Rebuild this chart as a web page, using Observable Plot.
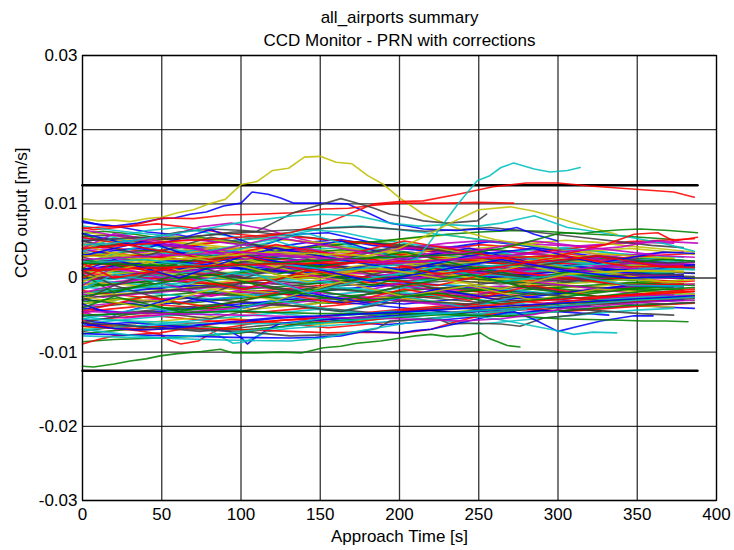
<!DOCTYPE html>
<html><head><meta charset="utf-8">
<script src="https://cdn.jsdelivr.net/npm/d3@7"></script>
<script src="https://cdn.jsdelivr.net/npm/@observablehq/plot@0.6"></script>
<style>body{margin:0;background:#fff}</style>
</head><body><div id="chart"></div>
<script>
const titleLines = ["all_airports summary", "CCD Monitor - PRN with corrections"];
const xLabel = "Approach Time [s]";
const yLabel = "CCD output [m/s]";
const xTicks = [0, 50, 100, 150, 200, 250, 300, 350, 400];
const yTicks = [-0.03, -0.02, -0.01, 0, 0.01, 0.02, 0.03];
const thresholdLevels = [0.0125, -0.0125];
const thresholdSpan = [0, 388];
const traceColors = ["#0000ff", "#008000", "#ff0000", "#00bfbf", "#bf00bf", "#bfbf00", "#404040"];
// sample times (s) for the bulk traces (staggered recording grids)
const sampleTimesA = [0,20,41,61,81,102,122,142,163,183,203,224,244,264,284,305,325,345,366,386];
const sampleTimesB = [0,13,33,54,74,94,115,135,155,176,196,216,237,257,277,298,318,338,359,379];
const sampleTimesC = [0,7,27,47,68,88,108,129,149,169,190,210,230,251,271,291,312,332,352,373];
const sampleTimesD = [0,40,81,122,163,203,244,284,325,366,386];
const sampleTimesE = [0,20,61,102,142,183,224,264,305,345,379];
// bulk traces, values in 1e-3 m/s
const coreTraces = [
[7.5,7.0,6.2,5.8,5.0,4.6,4.2,4.8,5.2,4.4,3.9,3.5,3.2,3.0,2.6,2.4,2.0,1.8,1.6,1.5],
[6.0,6.3,5.9,5.2,5.5,4.8,4.1,3.9,4.4,4.9,4.6,4.0,3.6,3.9,3.5,3.0,2.8,2.5,2.7,2.4],
[6.8,6.5,6.9,7.3,6.8,6.1,5.7,5.2,4.6,4.0,3.8,3.4,3.9,4.5,4.2,3.6,3.1,2.7,2.2,2.0],
[5.2,5.6,6.4,6.8,6.0,5.4,5.9,6.5,6.2,5.3,4.7,4.1,3.5,3.3,3.8,4.1,3.6,3.0,2.5,2.3],
[4.6,4.2,4.9,5.6,6.9,7.4,6.6,5.4,4.4,3.8,3.2,2.9,2.4,2.8,3.3,3.9,3.4,2.8,2.3,1.9],
[6.4,6.0,5.5,5.0,4.6,4.9,5.3,5.1,4.8,4.5,5.0,5.4,5.8,5.2,4.6,4.0,3.5,3.2,2.9,2.7],
[5.6,5.8,5.4,6.2,6.6,6.4,5.9,5.5,5.0,4.7,4.3,3.9,3.5,3.2,2.8,2.5,2.2,2.0,1.7,1.6],
[4.9,5.3,5.0,4.5,4.2,3.8,4.5,5.9,6.1,5.1,4.2,3.8,4.3,4.9,4.4,3.7,3.1,2.6,2.2,1.9],
[5.9,5.4,4.8,4.4,4.0,3.6,3.3,3.8,4.2,4.6,5.0,5.5,5.9,6.2,6.4,6.3,6.0,5.8,5.5,5.2],
[4.4,4.0,3.6,4.1,4.7,5.2,5.8,5.4,5.0,4.6,4.1,3.7,3.3,2.9,3.4,3.9,4.4,4.9,5.1,5.3],
[7.0,6.6,6.1,5.7,5.3,5.0,5.4,6.0,6.8,7.0,6.6,6.1,5.6,5.0,4.5,4.0,3.7,3.3,3.0,2.8],
[5.0,4.7,4.4,4.8,5.2,4.8,4.3,3.9,3.6,3.3,3.7,4.2,4.7,5.0,4.8,4.5,4.3,4.6,4.8,4.7],
[4.2,4.6,5.1,5.6,5.2,4.7,4.3,3.9,3.6,3.3,3.0,3.4,3.9,4.3,4.7,5.1,4.8,4.3,3.9,3.5],
[3.9,4.3,4.8,5.3,5.7,6.0,6.3,6.5,6.7,6.9,6.6,6.3,6.5,6.8,6.4,5.9,5.4,4.9,4.4,4.1],
[3.5,3.2,2.8,3.3,3.8,3.4,3.0,2.6,2.2,2.5,2.9,2.4,2.0,1.7,1.4,1.2,1.0,0.8,0.7,0.6],
[3.0,3.4,3.7,3.3,2.9,2.5,2.9,3.4,3.8,3.5,3.1,2.7,2.4,2.0,1.8,2.1,2.5,2.2,1.9,1.7],
[2.4,2.0,2.5,3.1,3.6,3.2,2.7,2.3,1.9,2.3,2.8,3.3,2.9,2.4,2.0,1.6,1.3,1.0,0.9,0.8],
[3.8,3.5,3.1,2.7,2.3,2.6,3.0,3.5,3.9,4.2,3.8,3.4,3.0,2.6,2.2,1.9,1.6,1.4,1.2,1.0],
[2.0,2.4,2.8,2.5,2.1,1.7,2.1,2.6,3.0,2.7,2.3,1.9,2.3,2.7,2.4,2.0,1.7,1.5,1.8,2.1],
[1.6,1.9,2.3,2.8,3.2,2.8,2.4,2.0,2.4,2.9,3.4,3.0,2.6,2.2,1.9,1.6,1.4,1.2,1.0,0.9],
[2.8,2.5,2.1,1.8,2.2,2.6,3.0,3.4,3.0,2.6,2.3,2.0,1.7,1.4,1.2,1.5,1.8,2.1,2.4,2.6],
[1.2,1.6,2.0,2.4,2.0,1.6,1.2,1.5,1.9,2.3,2.0,1.6,1.3,1.0,1.3,1.6,1.3,1.0,0.8,0.6],
[3.3,2.9,2.5,2.1,1.7,2.0,2.4,2.8,2.5,2.1,1.8,1.5,1.8,2.2,2.6,3.0,2.7,2.3,2.0,1.8],
[4.0,3.6,3.2,2.8,3.3,3.8,4.2,3.8,3.4,3.0,2.6,2.2,1.9,1.6,1.3,1.0,0.8,0.6,0.5,0.4],
[2.2,2.6,3.0,3.5,3.9,3.5,3.1,2.7,2.3,1.9,1.6,1.3,1.0,1.4,1.8,2.2,1.9,1.6,1.3,1.1],
[3.6,3.9,3.5,3.1,2.7,3.0,3.4,3.1,2.8,2.5,2.8,3.2,3.5,3.1,2.7,2.3,2.6,3.0,3.3,3.5],
[2.6,2.2,1.9,2.3,2.7,3.2,3.6,4.0,4.4,4.0,3.6,3.2,2.8,2.5,2.2,2.5,2.9,3.2,2.9,2.6],
[1.8,2.1,1.7,1.4,1.8,2.2,1.9,1.6,1.3,1.7,2.1,2.5,2.2,1.9,1.6,1.3,1.1,0.9,0.8,0.7],
[3.1,3.5,4.0,3.6,3.2,2.8,2.4,2.0,1.7,1.4,1.1,1.5,1.9,2.3,2.0,1.7,1.4,1.1,1.3,1.5],
[1.4,1.1,1.5,1.9,2.3,2.7,2.4,2.0,1.6,1.3,1.0,0.7,1.0,1.4,1.8,1.5,1.2,0.9,0.7,0.5],
[2.9,3.3,2.9,2.5,2.1,1.8,1.5,1.9,2.4,2.8,3.2,2.8,2.4,2.0,1.7,2.0,2.4,2.8,3.1,3.3],
[1.0,1.3,1.7,2.1,1.8,1.4,1.7,2.1,2.5,2.9,2.6,2.2,1.9,1.6,1.9,2.3,2.0,1.7,1.5,1.3],
[2.5,2.1,1.8,1.4,1.1,1.4,1.8,2.2,2.6,2.3,1.9,1.5,1.2,0.9,0.6,0.9,1.2,1.5,1.2,1.0],
[3.4,3.0,3.3,3.7,4.1,3.7,3.3,2.9,2.6,2.3,2.0,1.8,2.1,2.5,2.9,3.3,3.7,4.0,3.6,3.2],
[0.8,1.2,1.6,1.3,0.9,0.5,0.8,1.2,1.6,1.3,0.9,0.6,0.3,0.6,1.0,0.7,0.4,0.2,0.3,0.4],
[0.2,-0.2,0.2,0.6,1.0,1.4,1.1,0.7,0.3,0.0,0.4,0.8,1.2,0.9,0.5,0.2,-0.1,0.2,0.5,0.3],
[1.3,0.9,0.5,0.1,0.5,0.9,1.3,1.7,1.4,1.0,0.6,0.3,0.0,-0.3,0.0,0.4,0.8,0.5,0.2,0.0],
[-0.4,0.0,0.4,0.8,0.5,0.1,-0.3,0.0,0.4,0.8,1.2,0.9,0.5,0.2,0.5,0.9,0.6,0.3,0.1,-0.1],
[0.5,0.9,0.6,0.2,-0.2,0.1,0.5,0.9,0.6,0.2,-0.1,-0.4,-0.1,0.3,0.7,1.0,0.7,0.4,0.6,0.8],
[-0.9,-0.5,-0.1,0.3,0.0,-0.4,-0.8,-0.5,-0.1,0.3,0.7,0.4,0.0,-0.3,-0.6,-0.3,0.0,0.3,0.1,-0.1],
[1.0,0.6,0.2,0.6,1.0,0.7,0.3,-0.1,0.2,0.6,0.9,0.6,0.3,0.0,-0.3,0.0,0.3,0.6,0.4,0.2],
[-1.3,-0.9,-0.5,-0.8,-1.2,-0.8,-0.4,0.0,0.4,0.1,-0.3,-0.7,-0.4,0.0,0.3,0.0,-0.3,-0.1,0.1,0.0],
[0.0,0.4,0.8,1.2,1.6,1.3,0.9,0.5,0.1,-0.3,0.0,0.4,0.7,0.4,0.0,-0.3,-0.5,-0.2,0.1,-0.1],
[-0.6,-1.0,-0.6,-0.2,0.2,0.6,1.0,0.7,0.3,-0.1,-0.5,-0.2,0.2,0.5,0.2,-0.2,-0.5,-0.8,-0.5,-0.3],
[1.5,1.9,1.6,1.2,0.8,0.4,0.0,0.3,0.7,1.1,0.8,0.4,0.1,-0.2,-0.5,-0.2,0.2,0.0,-0.2,-0.4],
[-0.2,-0.6,-1.0,-0.7,-0.3,0.1,-0.2,-0.6,-0.3,0.1,0.5,0.9,0.6,0.2,-0.1,0.2,0.5,0.8,1.1,1.3],
[0.6,0.2,-0.2,-0.5,-0.1,0.3,0.7,1.1,1.5,1.2,0.8,0.4,0.0,0.3,0.7,0.4,0.0,-0.3,-0.1,0.1],
[-1.0,-0.6,-0.9,-1.3,-0.9,-0.5,-0.1,0.3,0.0,-0.4,-0.8,-1.1,-0.8,-0.4,-0.7,-1.0,-1.3,-1.0,-0.7,-0.5],
[0.3,-0.1,0.3,0.7,0.4,0.0,-0.4,-0.8,-0.5,-0.1,0.2,-0.1,-0.5,-0.8,-0.5,-0.1,0.2,0.5,0.3,0.2],
[1.1,1.5,1.9,2.3,1.9,1.5,1.1,0.7,1.0,1.4,1.1,0.7,0.4,0.1,0.4,0.8,1.1,0.8,0.5,0.4],
[-1.5,-1.1,-0.7,-0.3,-0.6,-1.0,-1.4,-1.1,-0.7,-0.3,0.1,0.5,0.2,-0.2,-0.5,-0.8,-0.5,-0.2,-0.4,-0.6],
[0.7,0.3,0.0,-0.4,-0.8,-0.5,-0.1,0.3,0.7,1.1,1.5,1.2,0.8,0.4,0.0,-0.3,-0.6,-0.9,-0.6,-0.4],
[-0.7,-0.3,0.1,0.5,0.9,0.6,0.2,-0.2,-0.6,-1.0,-0.7,-0.3,0.1,0.4,0.1,-0.3,-0.6,-0.3,0.0,0.2],
[1.8,1.4,1.0,0.6,1.0,1.4,1.8,1.5,1.1,0.7,0.3,0.0,0.3,0.7,1.0,1.3,1.0,0.7,0.4,0.3],
[0.1,0.5,0.9,0.5,0.1,-0.3,0.0,0.4,0.8,1.2,0.9,0.5,0.1,-0.2,-0.5,-0.8,-0.5,-0.2,-0.5,-0.8],
[-2.0,-1.6,-1.2,-1.6,-2.0,-2.4,-2.0,-1.6,-1.2,-0.8,-1.1,-1.5,-1.9,-1.6,-1.2,-0.9,-1.2,-1.5,-1.8,-2.0],
[-2.6,-2.2,-1.8,-1.4,-1.0,-1.3,-1.7,-2.1,-1.8,-1.4,-1.0,-0.7,-1.0,-1.4,-1.8,-2.1,-1.8,-1.5,-1.2,-1.0],
[-3.2,-2.8,-3.1,-3.5,-3.1,-2.7,-2.3,-1.9,-1.5,-1.8,-2.2,-2.6,-2.3,-1.9,-1.5,-1.2,-0.9,-0.6,-0.8,-1.0],
[-1.7,-2.1,-2.5,-2.9,-2.5,-2.1,-1.7,-1.3,-0.9,-0.5,-0.8,-1.2,-1.6,-2.0,-2.4,-2.1,-1.7,-1.4,-1.1,-0.9],
[-2.3,-1.9,-1.5,-1.1,-1.5,-1.9,-2.3,-2.7,-2.4,-2.0,-1.6,-1.2,-0.9,-1.2,-1.6,-2.0,-2.3,-2.6,-2.9,-3.1],
[-3.8,-3.4,-3.0,-2.6,-2.2,-1.8,-2.1,-2.5,-2.9,-2.6,-2.2,-1.8,-1.4,-1.1,-1.4,-1.8,-1.5,-1.2,-1.0,-0.8],
[-1.9,-2.3,-2.0,-1.6,-1.2,-1.5,-1.9,-2.3,-2.7,-3.0,-2.7,-2.3,-2.0,-2.3,-2.7,-3.0,-3.3,-3.0,-2.8,-2.7],
[-4.3,-3.9,-3.5,-3.1,-2.7,-3.0,-3.4,-3.8,-3.4,-3.0,-2.6,-2.3,-2.0,-2.3,-2.7,-3.0,-2.7,-2.4,-2.2,-2.1],
[-2.9,-3.3,-3.7,-3.3,-2.9,-2.5,-2.1,-2.4,-2.8,-3.2,-3.5,-3.1,-2.7,-2.3,-2.6,-3.0,-3.3,-3.6,-3.9,-4.1],
[-3.5,-3.1,-2.7,-2.3,-1.9,-2.2,-2.6,-3.0,-3.4,-3.1,-2.7,-2.3,-1.9,-1.5,-1.1,-1.4,-1.8,-1.5,-1.2,-1.0],
[-4.8,-4.4,-4.0,-3.6,-3.9,-4.3,-4.7,-4.3,-3.9,-3.5,-3.1,-2.7,-2.3,-2.6,-3.0,-3.4,-3.1,-2.8,-2.5,-2.3],
[-1.2,-1.6,-2.0,-2.4,-2.8,-2.5,-2.1,-1.7,-1.3,-1.6,-2.0,-2.4,-2.8,-3.2,-3.6,-3.3,-2.9,-2.6,-2.3,-2.1],
[-2.2,-2.6,-2.2,-1.8,-1.4,-1.0,-1.3,-1.7,-2.1,-2.5,-2.9,-3.3,-3.6,-3.9,-4.2,-4.5,-4.2,-3.9,-3.6,-3.4],
[-3.6,-3.2,-2.8,-3.1,-3.5,-3.9,-4.2,-3.8,-3.4,-3.0,-2.6,-2.9,-3.3,-3.7,-4.0,-3.6,-3.2,-3.5,-3.8,-3.9],
[-5.2,-4.8,-4.4,-4.0,-3.6,-3.2,-3.5,-3.9,-4.3,-4.7,-4.4,-4.0,-3.6,-3.2,-2.9,-2.6,-2.9,-3.2,-3.0,-2.8],
[-4.0,-4.4,-4.8,-4.4,-4.0,-3.6,-3.2,-2.8,-3.1,-3.5,-3.9,-4.3,-4.7,-4.4,-4.1,-3.8,-3.5,-3.3,-3.1,-3.0],
[-2.7,-3.1,-3.5,-3.9,-4.3,-4.0,-3.6,-3.2,-2.8,-2.4,-2.0,-1.6,-1.3,-1.6,-2.0,-2.3,-2.0,-1.7,-1.4,-1.2],
[-5.8,-5.4,-5.0,-5.4,-5.8,-6.2,-5.8,-5.4,-5.0,-4.6,-4.2,-3.8,-3.5,-3.8,-4.2,-4.5,-4.2,-3.9,-3.6,-3.4],
[-6.3,-5.9,-5.5,-5.1,-4.7,-4.3,-4.6,-5.0,-5.4,-5.8,-5.4,-5.0,-4.6,-4.2,-3.8,-3.5,-3.2,-2.9,-2.7,-2.5],
[-4.6,-5.0,-5.4,-5.0,-4.6,-4.2,-3.8,-3.4,-3.0,-2.6,-2.9,-3.3,-3.7,-4.1,-3.8,-3.4,-3.0,-2.7,-2.4,-2.2],
[-6.8,-6.4,-6.0,-5.6,-5.2,-5.6,-6.0,-6.4,-6.0,-5.6,-5.2,-4.8,-4.4,-4.0,-3.6,-3.3,-3.0,-2.8,-2.6,-2.5],
[-7.2,-6.8,-6.4,-6.8,-7.2,-6.8,-6.4,-6.0,-5.6,-5.2,-4.8,-4.4,-4.0,-4.4,-4.8,-4.0,-3.7,-3.4,-3.1],
[-5.5,-5.9,-6.3,-6.7,-6.4,-6.0,-5.6,-5.2,-5.5,-5.9,-6.3,-6.0,-5.6,-5.2,-4.8,-4.4,-4.7,-5.0],
[-7.5,-7.1,-6.7,-6.3,-6.6,-7.0,-6.6,-6.2,-5.8,-5.4,-5.0,-4.6,-4.9,-5.2,-4.8,-4.4,-4.0,-3.7,-3.5,-3.3],
[-6.0,-6.4,-6.8,-6.4,-6.0,-5.6,-5.9,-6.3,-6.7,-6.3,-5.9,-5.5,-5.1,-4.7,-4.3,-3.9,-3.5],
[-5.0,-5.4,-5.8,-6.2,-5.8,-5.4,-5.0,-4.6,-4.2,-4.6,-5.0,-5.4,-5.8,-6.2,-5.8,-5.4,-5.0,-4.6,-4.3,-4.1],
[5.4,5.0,4.6,4.2,3.8,3.4,3.0,2.7,3.1,3.5,3.9,4.3,4.0,3.6,3.2,2.8,2.5,2.2,2.0,1.8],
[4.5,4.9,5.3,4.9,4.5,4.1,3.7,3.3,2.9,2.5,2.1,2.4,2.8,3.2,2.9,2.5,2.2,1.9,1.6,1.4],
[-3.0,-2.6,-2.2,-1.8,-1.4,-1.0,-0.6,-0.9,-1.3,-1.7,-2.1,-2.5,-2.9,-3.3,-3.6,-3.9,-4.2,-4.5,-4.8,-5.0]
];
// coarser meandering traces, values in 1e-3 m/s
const meanderTraces = [
[2.0,4.5,3.0,5.0,2.5,1.0,3.0,1.5,0.5,1.5,1.2],
[-1.0,1.5,-0.5,2.0,0.5,-1.5,0.5,1.5,-0.5,0.5,0.3],
[4.5,2.0,4.0,1.5,3.5,2.0,0.0,2.0,1.0,-0.5,-0.2],
[-3.0,-1.0,-3.5,-0.5,-2.0,0.5,-1.5,-0.5,-2.0,-1.0,-0.8],
[6.0,4.0,6.5,3.5,5.0,2.5,4.0,2.0,3.0,1.5,1.8],
[0.5,-2.0,0.5,-1.5,1.0,-1.0,1.5,-0.5,0.5,0.0,0.2],
[-4.5,-2.5,-4.0,-2.0,-3.5,-1.5,-3.0,-1.0,-2.5,-2.0,-1.8],
[3.5,5.5,3.0,4.5,6.0,3.5,2.0,3.5,1.5,2.5,2.2],
[-2.0,0.0,-2.5,-0.5,-3.0,-1.0,-2.5,-0.5,-1.5,-2.5,-2.3],
[1.5,3.5,1.0,2.5,0.5,2.0,4.0,2.5,0.5,1.0,0.8],
[5.0,3.0,5.5,4.0,2.5,4.5,3.0,1.5,3.0,2.0,2.2],
[-3.5,-5.0,-2.5,-4.0,-2.0,-3.5,-1.5,-3.0,-2.0,-1.0,-1.2],
[2.5,1.0,3.0,0.5,2.0,3.5,1.5,0.0,1.5,2.5,2.3],
[0.0,2.0,0.0,-1.5,1.0,0.0,-1.0,1.0,0.0,-1.0,-0.8],
[-5.5,-4.0,-5.0,-3.0,-4.5,-2.5,-4.0,-2.0,-3.0,-2.5,-2.6],
[4.0,6.0,4.5,2.5,4.0,2.0,3.5,2.5,1.0,2.0,1.7],
[-2.5,-4.0,-1.5,-3.0,-0.5,-2.5,-1.0,-3.0,-1.5,-2.0,-2.2],
[1.0,-1.0,2.0,0.0,2.5,0.5,2.0,0.5,-0.5,0.5,0.4],
[3.0,5.0,2.0,4.0,2.5,1.0,3.0,4.0,2.0,3.5,3.3],
[-4.0,-2.5,-4.5,-3.0,-1.5,-3.0,-2.0,-3.5,-2.5,-1.5,-1.6],
[5.5,4.0,2.5,4.5,3.0,5.0,3.5,2.0,3.0,1.5,1.4],
[-1.5,0.5,-1.0,1.0,-2.0,0.0,1.5,-0.5,0.5,-1.0,-1.1],
[6.5,5.0,3.5,5.5,4.0,2.5,3.5,5.0,4.0,3.0,2.8],
[-0.5,1.0,3.0,1.5,-0.5,1.5,0.0,-1.5,0.5,1.0,0.9],
[-6.0,-4.5,-5.5,-3.5,-4.5,-3.0,-3.5,-2.0,-3.0,-3.5,-3.3],
[1.0,2.5,0.0,3.0,1.5,-0.5,1.0,2.5,1.0,0.0,0.2],
[-2.5,-1.0,0.5,-1.5,-3.0,-1.0,0.5,-1.5,-2.5,-1.5,-1.3],
[2.0,0.0,1.5,3.0,1.0,2.5,0.5,1.5,3.0,1.5,1.6]
];
// stand-out traces: colour, times (s), values (1e-3 m/s)
const outlierColors = ["#bfbf00","#0000ff","#ff0000","#ff0000","#404040","#00bfbf","#00bfbf","#bfbf00","#008000","#ff0000","#bf00bf",
  "#008000","#008000","#ff0000","#ff0000","#0000ff","#00bfbf","#ff0000","#404040","#0000ff","#00bfbf","#00bfbf","#008000","#bf00bf","#0000ff","#00bfbf"];
const outlierTimes = [
[0,10,20,30,40,50,60,70,80,90,100,110,120,130,140,150,160,170,180,190,200,215,230,245,260,280,300],
[0,10,20,35,49,58,68,78,89,100,107,117,125,133,150,167,182,194,205,215,236,250,264,274,285,300],
[0,20,40,60,80,105,131,143,155,170,184,200,215,237,259,280,300,320,340,360,373,386],
[0,15,30,51,70,90,110,133,152,168,184,200,230,250,272],
[0,20,40,60,80,95,110,122,133,144,163,173,184,194,205,215,230,249,255],
[0,40,80,120,160,200,211,218,226,237,249,257,264,272,285,295,306,314],
[0,15,30,50,68,85,100,115,133,152,173,194,212,230,250,264,285,306,328,348,368,386],
[0,60,120,180,200,215,232,250,270,285,300,320,337],
[0,80,160,240,265,283,302,315,327,340,352,370,388],
[0,100,200,300,330,348,363,373,388],
[0,100,200,300,340,360,388],
[0,7,20,30,40,49,60,75,87,95,110,125,138,152,163,173,188,201,210,220,230,240,251,257,262,268,276],
[0,20,49,75,100,120,138,160,180,200,220,240,260,280,300,320,340,360,386],
[0,10,20,35,49,65,87,100,120,140,160,180,200,220,240,260,280,300,320,340,360,386],
[0,20,35,49,55,62,73,80,87,100,110,125,140,155,170,185,200,220,240,260,280,300,320,340,360,386],
[0,15,30,45,60,75,93,100,104,108,112,118,125,140,160,180,200,220,240,260,280,300,320],
[0,15,30,45,60,70,79,87,95,100,104,110,117,130,150,175,200,225,250,275,300],
[0,20,40,60,80,105,131,145,155,175,201,210,220,232,245,257,270,280,300,320,340,360,386],
[0,25,50,75,100,115,131,147,163,175,186,194,210,224,232,248,264,276,291,310,327],
[0,30,60,95,131,147,163,177,190,201,210,220,235,250,262,272,285,300,313,327,348,360],
[0,30,60,95,131,147,163,180,194,212,230,245,260,278,295,310,322,337],
[0,30,60,95,131,152,168,184,201,220,240,260,280],
[0,50,100,150,200,240,280,300,320,340,354,368,382],
[0,50,100,150,200,240,264,285,306,325,340,360,386],
[0,10,20,35,49,65,80,100,120,140,160,180,200,225,250,275,300,325,350,370,386],
[0,15,30,49,70,90,105,120,135,150,175,200,225,250,275,300,325,350,370,386]
];
const outlierValues = [
[8.0,7.7,7.8,7.6,8.0,8.2,8.8,9.2,10.0,10.6,12.6,13.0,14.5,14.8,16.3,16.4,15.6,15.4,13.8,12.6,10.8,8.6,7.2,6.0,5.2,4.5,4.0],
[7.7,7.2,7.0,7.4,8.0,8.1,8.6,8.9,9.7,10.1,11.6,11.3,10.8,10.1,10.1,10.0,8.6,7.4,7.0,6.6,6.4,6.6,6.4,6.8,5.9,5.0],
[4.0,4.3,4.6,5.0,5.2,5.6,6.1,6.8,7.5,8.8,10.0,10.3,10.4,11.3,12.3,12.8,12.8,12.4,12.1,11.8,11.6,10.9],
[6.7,6.9,7.0,8.1,8.0,8.5,8.6,8.8,9.3,9.4,9.8,10.1,10.1,10.2,10.1],
[5.0,5.3,5.5,5.3,5.8,6.2,6.3,7.6,8.8,9.5,10.7,10.1,9.4,8.6,8.2,7.7,7.4,7.7,8.6],
[2.0,2.5,1.5,2.0,1.0,1.8,2.7,4.5,6.8,10.0,13.1,13.8,14.9,15.5,14.7,14.3,14.5,14.9],
[4.5,4.6,5.0,5.7,6.3,6.9,7.5,7.9,8.4,8.6,8.4,7.4,7.0,7.2,7.0,7.4,8.4,6.8,6.1,5.4,4.6,3.6],
[3.0,2.5,3.5,3.0,4.0,5.5,7.4,9.2,9.6,9.0,8.1,6.8,5.9],
[2.0,1.5,2.5,3.2,4.0,5.0,6.1,6.0,6.3,6.5,6.6,6.4,6.1],
[1.0,1.8,2.2,3.0,4.5,5.9,6.1,5.0,5.5],
[2.5,3.5,2.0,3.5,4.2,5.0,4.7],
[-11.9,-12.0,-11.6,-11.2,-10.9,-10.5,-10.2,-9.9,-9.6,-10.1,-10.1,-10.0,-10.1,-9.4,-9.2,-8.8,-8.5,-8.1,-7.8,-7.6,-7.9,-7.8,-7.4,-8.2,-8.6,-9.1,-9.3],
[-8.6,-8.3,-8.1,-7.8,-7.4,-6.8,-6.1,-5.8,-5.5,-5.3,-5.0,-4.7,-4.2,-3.9,-3.5,-3.3,-3.0,-2.8,-2.6],
[-8.9,-8.3,-7.8,-7.6,-7.4,-6.8,-6.1,-6.0,-5.8,-5.5,-5.0,-4.8,-4.4,-4.2,-4.0,-3.6,-3.2,-2.9,-2.6,-2.4,-2.2,-1.8],
[-6.0,-6.8,-7.1,-7.6,-8.4,-8.9,-8.5,-7.6,-6.8,-6.4,-6.0,-5.7,-5.6,-5.9,-6.0,-5.6,-5.2,-4.8,-4.6,-4.3,-4.0,-3.8,-3.5,-3.2,-3.0,-2.6],
[-6.5,-6.2,-6.0,-6.3,-6.5,-6.8,-7.2,-8.0,-8.9,-8.2,-7.6,-6.8,-6.1,-5.8,-5.5,-5.3,-5.0,-4.8,-4.6,-4.3,-4.0,-3.9,-3.8],
[-7.0,-6.7,-6.5,-6.3,-6.2,-6.4,-6.8,-7.9,-8.8,-8.7,-8.5,-7.9,-7.2,-6.8,-6.5,-6.1,-5.8,-5.3,-5.0,-4.8,-4.5],
[-6.5,-6.8,-7.0,-6.7,-6.8,-7.0,-7.2,-7.3,-7.4,-7.3,-7.4,-7.2,-6.9,-6.1,-5.4,-4.9,-4.3,-3.8,-3.3,-2.8,-2.4,-2.0,-1.5],
[-6.0,-6.4,-6.8,-7.0,-7.2,-7.5,-7.8,-7.7,-7.6,-7.2,-6.8,-5.8,-5.6,-5.5,-6.2,-6.1,-6.2,-6.5,-5.4,-5.0,-4.5],
[-7.5,-7.7,-7.8,-8.0,-8.1,-8.0,-7.8,-7.2,-7.3,-7.4,-7.1,-6.9,-6.2,-5.5,-4.9,-4.5,-5.6,-7.2,-6.5,-5.8,-5.1,-5.1],
[-5.5,-5.8,-6.0,-6.2,-6.1,-5.6,-5.1,-4.8,-4.5,-4.6,-4.8,-5.1,-5.5,-6.2,-6.9,-7.6,-7.3,-7.4],
[-7.8,-8.0,-8.2,-8.4,-8.5,-8.1,-7.4,-6.8,-6.2,-5.6,-5.0,-4.6,-4.2],
[-5.0,-4.7,-4.5,-4.8,-4.8,-5.0,-5.2,-5.5,-5.6,-5.7,-5.8,-5.8,-5.9],
[-4.5,-4.8,-5.0,-5.3,-5.5,-5.8,-5.5,-4.9,-4.0,-3.8,-3.5,-3.2,-3.0],
[-6.1,-6.5,-6.8,-7.0,-6.9,-6.6,-6.2,-5.9,-5.5,-5.2,-5.0,-4.8,-4.6,-4.3,-4.0,-3.7,-3.4,-3.1,-2.8,-2.6,-2.4],
[-6.9,-7.3,-7.7,-8.1,-7.8,-7.5,-7.1,-6.8,-6.4,-6.1,-5.6,-5.2,-4.8,-4.4,-4.1,-3.8,-3.4,-3.0,-2.8,-2.6]
];

const fineGrids = [sampleTimesA, sampleTimesB, sampleTimesC];
const coarseGrids = [sampleTimesD, sampleTimesE];
const traceRows = [];
coreTraces.forEach((vals, i) => vals.forEach((v, j) =>
  traceRows.push({id: "core" + i, t: fineGrids[i % 3][j], v: v / 1000, color: traceColors[i % traceColors.length]})));
meanderTraces.forEach((vals, i) => vals.forEach((v, j) =>
  traceRows.push({id: "mean" + i, t: coarseGrids[i % 2][j], v: v / 1000, color: traceColors[(i + 3) % traceColors.length]})));
outlierValues.forEach((vals, i) => vals.forEach((v, j) =>
  traceRows.push({id: "out" + i, t: outlierTimes[i][j], v: v / 1000, color: outlierColors[i]})));
const thresholdRows = thresholdLevels.flatMap(level => thresholdSpan.map(t => ({level, t, v: level})));

const font = "'Liberation Sans', Arial, sans-serif";
const chart = Plot.plot({
  width: 734, height: 550,
  marginLeft: 82, marginRight: 18, marginTop: 55, marginBottom: 50,
  style: {fontFamily: font, fontSize: "17px", color: "#000", background: "#fff"},
  x: {domain: [0, 400], ticks: xTicks, label: null},
  y: {domain: [-0.03, 0.03], ticks: yTicks, label: null},
  color: {type: "identity"},
  marks: [
    Plot.gridX(xTicks, {stroke: "#000", strokeOpacity: 0.8, strokeWidth: 1.3}),
    Plot.gridY(yTicks, {stroke: "#000", strokeOpacity: 0.8, strokeWidth: 1.3}),
    Plot.line(thresholdRows, {x: "t", y: "v", z: "level", stroke: "#000", strokeWidth: 2.6}),
    Plot.line(traceRows, {x: "t", y: "v", z: "id", stroke: "color", strokeWidth: 1.6, strokeOpacity: 0.88}),
    Plot.frame({stroke: "#000", strokeWidth: 1.2}),
    Plot.axisX(xTicks, {tickSize: 0, tickPadding: 7, fontSize: 17}),
    Plot.axisY(yTicks, {tickSize: 0, tickPadding: 5, fontSize: 17, tickFormat: d => d === 0 ? "0" : d.toFixed(2)}),
    Plot.text([xLabel], {frameAnchor: "bottom", dy: 41, fontSize: 17}),
    Plot.text([yLabel], {frameAnchor: "left", dx: -61, rotate: -90, fontSize: 17}),
    Plot.text([titleLines[0]], {frameAnchor: "top", dy: -45, fontSize: 17}),
    Plot.text([titleLines[1]], {frameAnchor: "top", dy: -22, fontSize: 17})
  ]
});
document.getElementById("chart").appendChild(chart);
</script>
</body></html>
